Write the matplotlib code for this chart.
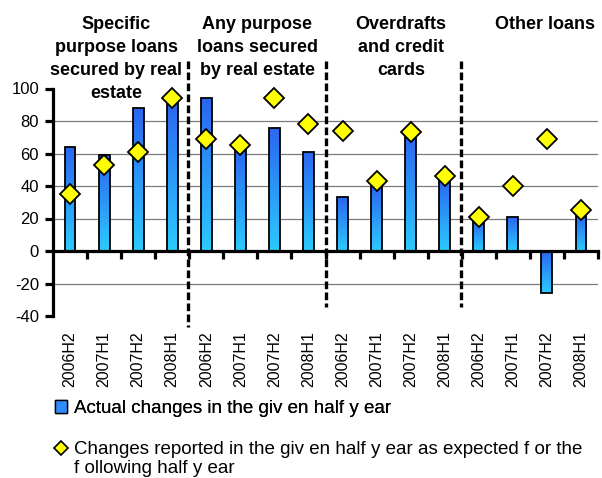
import matplotlib
matplotlib.use("Agg")
import matplotlib.pyplot as plt
import numpy as np
from matplotlib.colors import LinearSegmentedColormap
from matplotlib.patches import Patch
from matplotlib.lines import Line2D

plt.rcParams['font.family'] = ['Liberation Sans', 'DejaVu Sans']
plt.rcParams['axes.unicode_minus'] = False

# data
periods = ["2006H2", "2007H1", "2007H2", "2008H1"] * 4
actual = [64, 59, 88, 92, 94, 63, 76, 61, 33, 41, 72, 44, 19, 21, -26, 22]
expected = [35, 53, 61, 94, 69, 65, 94, 78, 74, 43, 73, 46, 21, 40, 69, 25]
group_titles = ["Specific\npurpose loans\nsecured by real\nestate",
                "Any purpose\nloans secured\nby real estate",
                "Overdrafts\nand credit\ncards",
                "Other loans"]
label_actual = "Actual changes in the giv en half y ear"
label_expected = "Changes reported in the giv en half y ear as expected f or the"
label_expected2 = "f ollowing half y ear"

fig = plt.figure(figsize=(6.02, 4.78), dpi=100)
ax = fig.add_axes([53 / 602, 1 - 316 / 478, 545 / 602, (316 - 88.5) / 478])

x = np.arange(len(actual))

# grid lines (no line at 100 / -40 in the original)
ax.hlines([-20, 20, 40, 60, 80], -0.5, len(actual) - 0.5, colors="#7a7a7a", lw=0.9, zorder=1)

# bars with blue gradient
cmap = LinearSegmentedColormap.from_list("bl", ["#2a66f0", "#2ccaff"])
grad = np.linspace(0, 1, 64).reshape(-1, 1)
bars = ax.bar(x, actual, width=0.32, facecolor="none", edgecolor="black", linewidth=1.3, zorder=4)
for b in bars:
    x0, y0, w, h = b.get_x(), b.get_y(), b.get_width(), b.get_height()
    im = ax.imshow(grad, cmap=cmap, extent=[x0, x0 + w, min(y0, y0 + h), max(y0, y0 + h)],
                   aspect="auto", origin="upper", zorder=3)
    im.set_clip_path(b)
ax.set_xlim(-0.5, len(actual) - 0.5)
ax.set_ylim(-40, 100)

ax.plot(x, expected, linestyle="none", marker="D", ms=10, mfc="#ffff00", mec="black",
        mew=1.3, zorder=5, clip_on=False)

# axes styling
for s in ["top", "right"]:
    ax.spines[s].set_visible(False)
ax.spines["left"].set_linewidth(2.3)
ax.spines["bottom"].set_linewidth(2.3)
ax.spines["bottom"].set_position(("data", 0))
ax.spines["bottom"].set_zorder(6)

ax.set_yticks(range(-40, 101, 20))
ax.tick_params(axis="y", length=6, width=2.3, labelsize=12, pad=4)
ax.set_xticks(x)
ax.set_xticklabels(periods, rotation=90, fontsize=11.5)
ax.tick_params(axis="x", which="major", length=0, pad=58)
ax.set_xticks(np.arange(0.5, len(actual), 1), minor=True)
ax.tick_params(axis="x", which="minor", length=6, width=2.3)

# group separators
for gx, gbot in zip([3.45, 7.52, 11.48], [-47, -34.5, -34.5]):
    ax.plot([gx, gx], [117, gbot], color="black", lw=2.4, ls=(0, (2.3, 1)),
            clip_on=False, zorder=7)

# group titles
for tx, t in zip([1.35, 5.49, 9.72, 13.94], group_titles):
    ax.text(tx, 144.5, t, ha="center", va="top", fontsize=13, fontweight="bold",
            linespacing=1.45, clip_on=False)

# legends
leg1 = fig.legend(handles=[Patch(facecolor="#2e8cff", edgecolor="black")], labels=[label_actual],
                  loc="upper left", bbox_to_anchor=(55 / 602, 1 - 400 / 478), frameon=False,
                  fontsize=13.5, handlelength=0.65, handleheight=0.65, handletextpad=0.35,
                  borderpad=0, borderaxespad=0)
leg2 = fig.legend(handles=[Line2D([], [], ls="none", marker="D", ms=7, mfc="#ffff00", mec="black", mew=1.2),
                           Line2D([], [], ls="none")],
                  labels=[label_expected, label_expected2],
                  loc="upper left", bbox_to_anchor=(55 / 602, 1 - 441 / 478), frameon=False,
                  fontsize=13.5, handlelength=0.65, handletextpad=0.35, labelspacing=0.08,
                  borderpad=0, borderaxespad=0)
fig.add_artist(leg1)

fig.savefig("out.png", dpi=100)
